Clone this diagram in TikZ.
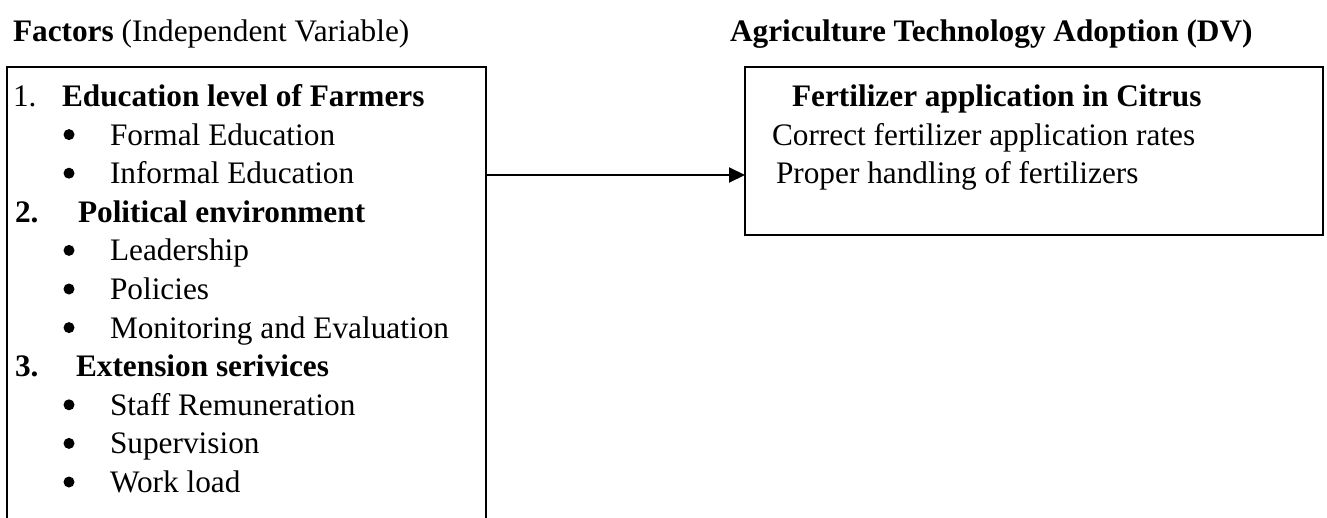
\documentclass[tikz,border=0pt]{standalone}
\usepackage{fontspec}
\setmainfont{Liberation Serif}
\usetikzlibrary{arrows.meta}
\begin{document}
\begin{tikzpicture}[x=1pt,y=-1pt,
  txt/.style={anchor=base west, inner sep=0pt, outer sep=0pt, font=\fontsize{31.3}{36}\selectfont},
  boxst/.style={draw, line width=2pt, inner sep=0pt, outer sep=0pt, anchor=north west},
  bul/.style={circle, fill=black, inner sep=0pt, minimum size=11pt},
  conn/.style={line width=2pt, -{Triangle[length=16pt,width=15pt]}}]
\useasboundingbox (0,0) rectangle (1327,517);
% headers
\node[txt] (hl) at (13,41) {\textbf{Factors} (Independent Variable)};
\node[txt] (hr) at (730,41) {\textbf{Agriculture Technology Adoption (DV)}};
% boxes
\node[boxst, minimum width=479pt, minimum height=500pt] (lbox) at (7,67) {};
\node[boxst, minimum width=578pt, minimum height=168pt] (rbox) at (745,67) {};
% left list
\node[txt] (n1) at (13,106.4) {1.};
\node[txt] (t1) at (62,106.4) {\bfseries Education level of Farmers};
\node[bul] (b11) at (69,134.6) {};
\node[txt] (t11) at (110,145.0) {Formal Education};
\node[bul] (b12) at (69,173.2) {};
\node[txt] (t12) at (110,183.6) {Informal Education};
\node[txt] (n2) at (15,222.2) {\bfseries 2.};
\node[txt] (t2) at (78,222.2) {\bfseries Political environment};
\node[bul] (b21) at (69,250.4) {};
\node[txt] (t21) at (110,260.8) {Leadership};
\node[bul] (b22) at (69,289.0) {};
\node[txt] (t22) at (110,299.4) {Policies};
\node[bul] (b23) at (69,327.6) {};
\node[txt] (t23) at (110,338.0) {Monitoring and Evaluation};
\node[txt] (n3) at (15,376.6) {\bfseries 3.};
\node[txt] (t3) at (76,376.6) {\bfseries Extension serivices};
\node[bul] (b31) at (69,404.8) {};
\node[txt] (t31) at (110,415.2) {Staff Remuneration};
\node[bul] (b32) at (69,443.4) {};
\node[txt] (t32) at (110,453.8) {Supervision};
\node[bul] (b33) at (69,482.0) {};
\node[txt] (t33) at (110,492.4) {Work load};
% right box text
\node[txt] (r1) at (792,106.4) {\bfseries Fertilizer application in Citrus};
\node[txt] (r2) at (772,145.0) {Correct fertilizer application rates};
\node[txt] (r3) at (776,183.6) {Proper handling of fertilizers};
% connector
\coordinate (ay) at (0,175);
\draw[conn] (lbox.east |- ay) -- (rbox.west |- ay);
\end{tikzpicture}
\end{document}
